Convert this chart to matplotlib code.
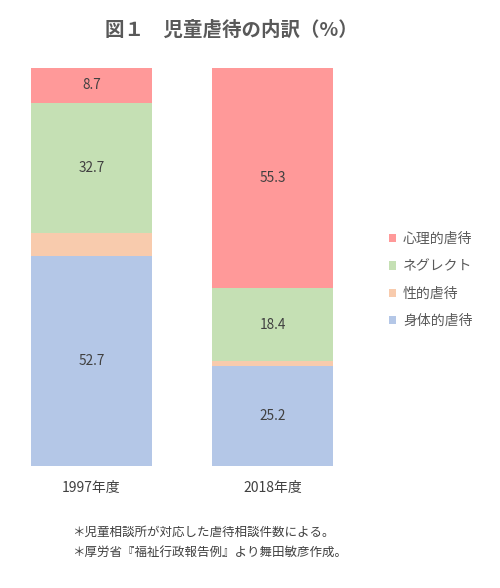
import matplotlib
matplotlib.use("Agg")
import matplotlib.pyplot as plt
from matplotlib.patches import Patch

plt.rcParams['font.family'] = ['Noto Sans CJK JP', 'DejaVu Sans']

years = ['1997年度', '2018年度']
categories = ['身体的虐待', '性的虐待', 'ネグレクト', '心理的虐待']
physical = [52.7, 25.2]
sexual = [5.9, 1.1]
neglect = [32.7, 18.4]
psych = [8.7, 55.3]
series = [physical, sexual, neglect, psych]
colors = ['#B4C7E7', '#F8CBAD', '#C5E0B4', '#FF9999']
show_label = [True, False, True, True]

fig = plt.figure(figsize=(5, 5.88), dpi=100)
ax = fig.add_axes([0.02, (588 - 466) / 588, 0.69, 398 / 588])

x = list(range(len(years)))
bottom = [0.0] * len(years)
width = 121 / 181
for vals, c, lab, show in zip(series, colors, categories, show_label):
    bars = ax.bar(x, vals, width=width, bottom=bottom, color=c, label=lab, linewidth=0)
    if show:
        for xi, v, b in zip(x, vals, bottom):
            ax.text(xi, b + v / 2, f'{v:.1f}', ha='center', va='center',
                    fontsize=9.8, color='#404040')
    bottom = [b + v for b, v in zip(bottom, vals)]

ax.set_xlim(-81.5 / 181, 1 + (355 - 272.5) / 181)
ax.set_ylim(0, 100)
ax.set_xticks(x)
ax.set_xticklabels(years, fontsize=10, color='#404040')
ax.tick_params(axis='x', length=0, pad=11)
ax.set_yticks([])
for s in ax.spines.values():
    s.set_visible(False)

fig.text(0.463, 1 - 30 / 588, '図１　児童虐待の内訳（%）', ha='center', va='center',
         fontsize=14, fontweight='bold', color='#595959')

handles = [Patch(facecolor=c, edgecolor='none') for c in colors][::-1]
labels = categories[::-1]
leg = fig.legend(handles, labels, loc='center left', bbox_to_anchor=(0.752, 1 - 280 / 588),
                 frameon=False, fontsize=10, handlelength=0.55, handleheight=0.55,
                 handletextpad=0.5, labelspacing=0.95, labelcolor='#595959')

fig.text(0.144, 1 - 532 / 588, '＊児童相談所が対応した虐待相談件数による。', ha='left', va='center',
         fontsize=9, color='#404040')
fig.text(0.144, 1 - 552 / 588, '＊厚労省『福祉行政報告例』より舞田敏彦作成。', ha='left', va='center',
         fontsize=9, color='#404040')

fig.savefig('out.png', dpi=100)
